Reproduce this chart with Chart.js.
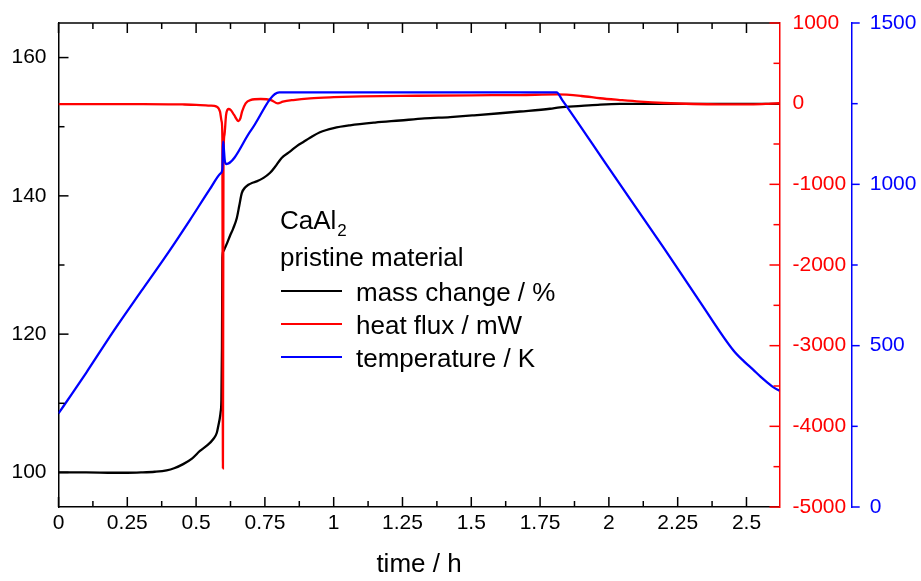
<!DOCTYPE html>
<html>
<head>
<meta charset="utf-8">
<script src="https://cdn.jsdelivr.net/npm/chart.js@4.4.1/dist/chart.umd.min.js"></script>
<style>
  html, body { margin: 0; padding: 0; background: #fff; }
  canvas { display: block; }
</style>
</head>
<body>
<canvas id="chart" width="921" height="581"></canvas>
<script>
const FONT = "'Liberation Sans', Arial, Helvetica, sans-serif";

// Axis tick values
const timeTicks = [0, 0.25, 0.5, 0.75, 1, 1.25, 1.5, 1.75, 2, 2.25, 2.5];
const massTicks = [100, 120, 140, 160];
const heatTicks = [-5000, -4000, -3000, -2000, -1000, 0, 1000];
const tempTicks = [0, 500, 1000, 1500];

// Mass change / % (left axis)
const massTime = [0, 0.1, 0.2, 0.25, 0.3, 0.35, 0.393, 0.42, 0.453, 0.485, 0.514, 0.54, 0.562, 0.575, 0.581,
  0.586, 0.589, 0.592, 0.594, 0.5955, 0.599, 0.605, 0.613, 0.623, 0.635, 0.648, 0.657, 0.666, 0.678, 0.69,
  0.705, 0.72, 0.745, 0.768, 0.787, 0.805, 0.817, 0.841, 0.866, 0.89, 0.914, 0.95, 1.0, 1.059, 1.15,
  1.241, 1.33, 1.423, 1.51, 1.604, 1.677, 1.786, 1.822, 1.9, 1.968, 2.04, 2.113, 2.25, 2.4, 2.62];
const massValues = [100.0, 100.0, 99.95, 99.95, 100.0, 100.1, 100.3, 100.6, 101.2, 102.0, 103.1, 103.9, 104.8, 105.7, 106.8,
  107.8, 108.7, 110.5, 118.0, 131.0, 132.0, 132.5, 133.2, 134.2, 135.3, 136.8, 138.6, 140.4, 141.2, 141.6,
  141.9, 142.1, 142.6, 143.3, 144.2, 145.2, 145.7, 146.4, 147.2, 147.8, 148.4, 149.2, 149.8, 150.2, 150.6,
  150.9, 151.2, 151.4, 151.65, 151.95, 152.2, 152.6, 152.8, 153.0, 153.2, 153.3, 153.3, 153.3, 153.3, 153.3];

// Heat flux / mW (first right axis)
const heatTime = [0, 0.1, 0.2, 0.3, 0.4, 0.45, 0.5, 0.5505, 0.5749, 0.5869, 0.593, 0.5955, 0.5965, 0.5975, 0.5985,
  0.5995, 0.603, 0.609, 0.617, 0.626, 0.638, 0.654, 0.661, 0.667, 0.68, 0.697, 0.735, 0.772, 0.797, 0.815,
  0.853, 0.914, 1.0, 1.1, 1.3, 1.5, 1.677, 1.81, 1.9, 1.968, 2.04, 2.113, 2.2, 2.307, 2.404, 2.525, 2.58, 2.62];
const heatValues = [-5, -5, -5, -6, -8, -10, -14, -24, -37, -99, -223, -425, -2600, -4520, -2600,
  -700, -388, -140, -66, -78, -140, -215, -181, -99, 4, 45, 58, 45, 4, 24,
  45, 66, 80, 90, 98, 104, 107, 114, 95, 67, 45, 25, 8, -4, -8, -8, -2, 5];

// Temperature / K (second right axis)
const tempTime = [0, 0.05, 0.1, 0.2, 0.3, 0.4, 0.478, 0.55, 0.59, 0.5955, 0.597, 0.5985, 0.6005, 0.604, 0.609,
  0.7, 0.802, 0.82, 1.0, 1.5, 1.81, 1.83, 2.0, 2.2, 2.331, 2.452, 2.49, 2.525, 2.55, 2.573, 2.6, 2.62];
const tempValues = [290, 352, 415, 545, 668, 790, 890, 985, 1035, 1048, 1100, 1132, 1115, 1075, 1063,
  1168, 1285, 1285, 1285, 1285, 1285, 1262, 1050, 802, 636, 486, 452, 425, 405, 388, 370, 360];

const legendTitle = ['CaAl', '2'];
const legendSubtitle = 'pristine material';

const toPoints = (xs, ys) => xs.map((x, i) => ({ x, y: ys[i] }));
const midpoints = arr => arr.slice(0, -1).map((v, i) => (v + arr[i + 1]) / 2);
const fixTicks = list => scale => { scale.ticks = list.map(v => ({ value: v })); };
const label = v => String(+Number(v).toFixed(3));
const fitVertical = width => scale => { scale.width = width; scale.paddingTop = 0; scale.paddingBottom = 0; };

// Inward / outward tick marks and the top frame line
const tickMarks = {
  id: 'tickMarks',
  afterDraw(chart) {
    const { ctx, chartArea: a, scales } = chart;
    const seg = (x1, y1, x2, y2) => { ctx.beginPath(); ctx.moveTo(x1, y1); ctx.lineTo(x2, y2); ctx.stroke(); };
    ctx.save();
    ctx.lineWidth = 1.5;
    ctx.lineCap = 'butt';

    ctx.strokeStyle = '#000';
    seg(a.left, a.top, a.right, a.top);
    const xMinor = midpoints(timeTicks).concat([timeTicks[timeTicks.length - 1] + 0.125]);
    const xs = scales.x;
    const drawX = (v, len) => {
      if (v < xs.min || v > xs.max) return;
      const px = xs.getPixelForValue(v);
      seg(px, a.bottom, px, a.bottom - len);
      seg(px, a.top, px, a.top + len);
    };
    timeTicks.forEach(v => drawX(v, 10));
    xMinor.forEach(v => drawX(v, 6));

    const ys = scales.y;
    massTicks.forEach(v => { const py = ys.getPixelForValue(v); seg(a.left, py, a.left + 10, py); });
    midpoints(massTicks).forEach(v => { const py = ys.getPixelForValue(v); seg(a.left, py, a.left + 6, py); });

    const hs = scales.yHeat;
    ctx.strokeStyle = '#ff0000';
    heatTicks.forEach(v => { const py = hs.getPixelForValue(v); seg(a.right, py, a.right - 10, py); });
    midpoints(heatTicks).forEach(v => { const py = hs.getPixelForValue(v); seg(a.right, py, a.right - 6, py); });

    const ts = scales.yTemp;
    ctx.strokeStyle = '#0000ff';
    tempTicks.forEach(v => { const py = ts.getPixelForValue(v); seg(ts.left, py, ts.left + 8, py); });
    midpoints(tempTicks).forEach(v => { const py = ts.getPixelForValue(v); seg(ts.left, py, ts.left + 6, py); });
    ctx.restore();
  }
};

// Legend block inside the plot
const legendBlock = {
  id: 'legendBlock',
  afterDraw(chart) {
    const { ctx } = chart;
    ctx.save();
    ctx.fillStyle = '#000';
    ctx.textBaseline = 'alphabetic';
    ctx.textAlign = 'left';
    ctx.font = `26px ${FONT}`;
    const x0 = 280;
    ctx.fillText(legendTitle[0], x0, 229);
    const w = ctx.measureText(legendTitle[0]).width;
    ctx.font = `17px ${FONT}`;
    ctx.fillText(legendTitle[1], x0 + w + 1, 236);
    ctx.font = `26px ${FONT}`;
    ctx.fillText(legendSubtitle, x0, 266);
    const rows = [291, 324, 357];
    chart.data.datasets.forEach((ds, i) => {
      const y = rows[i];
      ctx.strokeStyle = ds.borderColor;
      ctx.lineWidth = 2;
      ctx.beginPath(); ctx.moveTo(281, y); ctx.lineTo(342, y); ctx.stroke();
      ctx.fillStyle = '#000';
      ctx.fillText(ds.label, 356, y + 10);
    });
    ctx.restore();
  }
};

const tickFont = { family: FONT, size: 21 };

new Chart(document.getElementById('chart'), {
  type: 'line',
  data: {
    datasets: [
      { label: 'mass change / %', data: toPoints(massTime, massValues), borderColor: '#000000', yAxisID: 'y', order: 3 },
      { label: 'heat flux / mW', data: toPoints(heatTime, heatValues), borderColor: '#ff0000', yAxisID: 'yHeat', order: 2 },
      { label: 'temperature / K', data: toPoints(tempTime, tempValues), borderColor: '#0000ff', yAxisID: 'yTemp', order: 1 }
    ]
  },
  options: {
    responsive: false,
    animation: false,
    devicePixelRatio: 1,
    layout: { autoPadding: false, padding: { top: 23, left: 0, right: 0, bottom: 0 } },
    elements: {
      point: { radius: 0 },
      line: { borderWidth: 2.3, cubicInterpolationMode: 'monotone', fill: false }
    },
    plugins: { legend: { display: false }, tooltip: { enabled: false } },
    scales: {
      x: {
        type: 'linear', position: 'bottom', min: 0, max: 2.62,
        afterBuildTicks: fixTicks(timeTicks),
        afterFit: s => { s.height = 74; s.paddingLeft = 0; s.paddingRight = 0; },
        grid: { display: false, drawTicks: false },
        border: { display: true, color: '#000', width: 1.5 },
        ticks: { color: '#000', font: tickFont, padding: 4, autoSkip: false, maxRotation: 0, callback: label },
        title: { display: true, text: 'time / h', color: '#000', font: { family: FONT, size: 26 }, padding: { top: 0, bottom: 1 } }
      },
      y: {
        type: 'linear', position: 'left', min: 95, max: 165,
        afterBuildTicks: fixTicks(massTicks),
        afterFit: fitVertical(58.5),
        grid: { display: false, drawTicks: false },
        border: { display: true, color: '#000', width: 1.5 },
        ticks: { color: '#000', font: tickFont, padding: 12, autoSkip: false, callback: label }
      },
      yHeat: {
        type: 'linear', position: 'right', min: -5000, max: 1000,
        afterBuildTicks: fixTicks(heatTicks),
        afterFit: fitVertical(72.2),
        grid: { display: false, drawTicks: false },
        border: { display: true, color: '#ff0000', width: 1.5 },
        ticks: { color: '#ff0000', font: tickFont, padding: 13, autoSkip: false, callback: label }
      },
      yTemp: {
        type: 'linear', position: 'right', min: 0, max: 1500,
        afterBuildTicks: fixTicks(tempTicks),
        afterFit: fitVertical(69.3),
        grid: { display: false, drawTicks: false },
        border: { display: true, color: '#0000ff', width: 1.5 },
        ticks: { color: '#0000ff', font: tickFont, padding: 18, autoSkip: false, callback: label }
      }
    }
  },
  plugins: [tickMarks, legendBlock]
});
</script>
</body>
</html>
